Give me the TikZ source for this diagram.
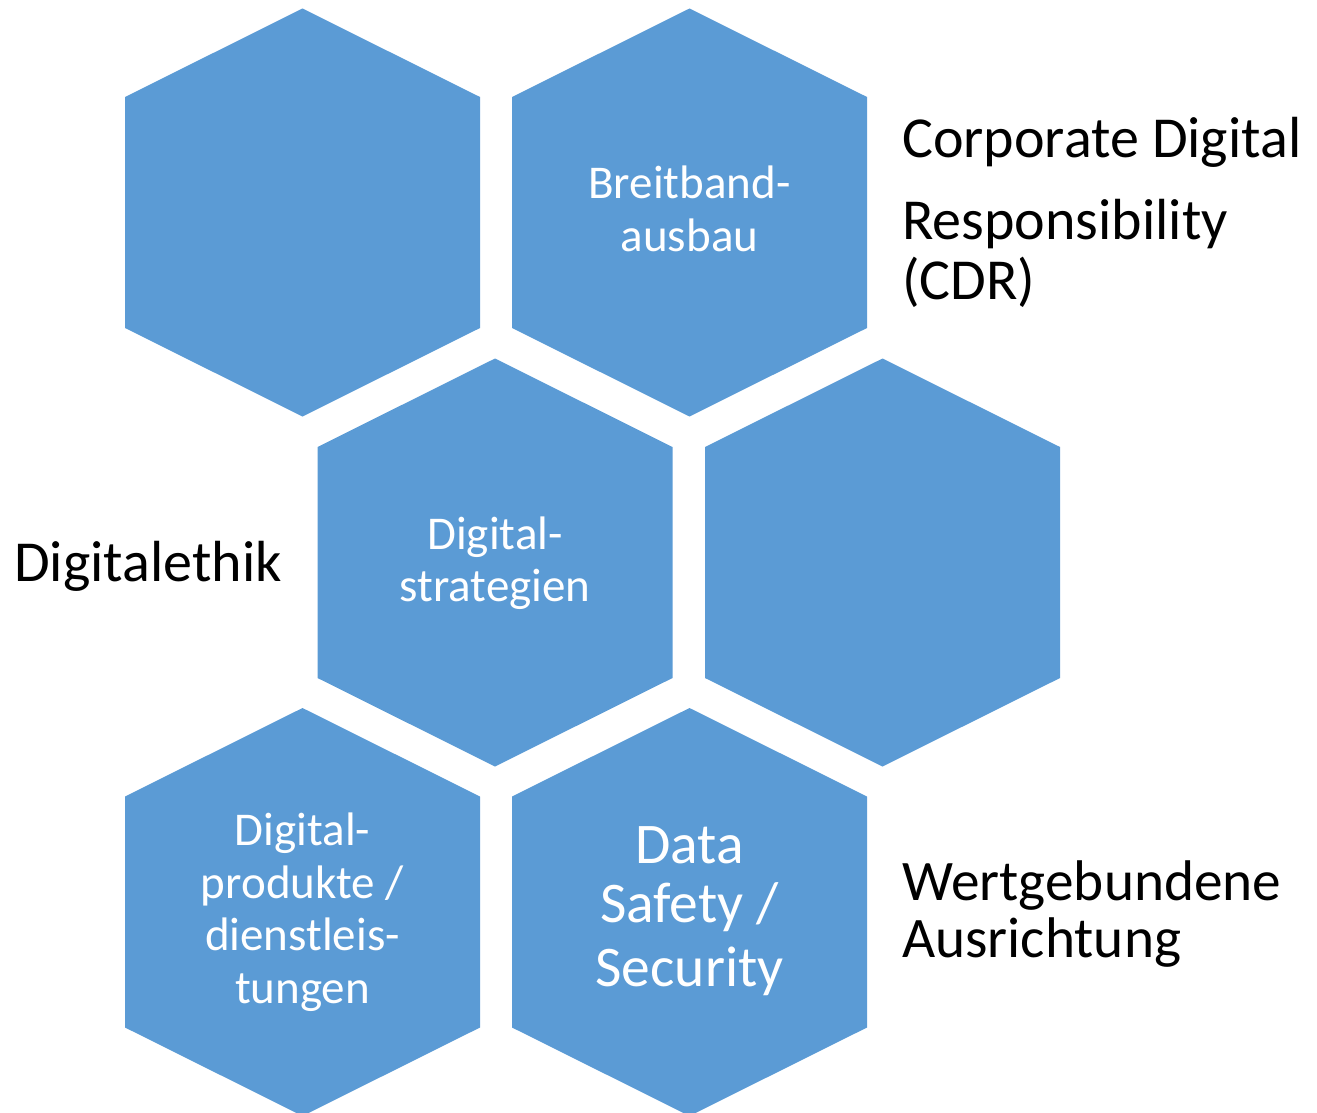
\documentclass[tikz,border=0pt]{standalone}
\usepackage{fontspec}
\setmainfont{Carlito}
\definecolor{hexblue}{RGB}{91,155,213}
\newcommand\hexcell[3]{%
  \coordinate (#1) at (#2,#3);
  \fill[hexfill,shift={(#2,#3)}] (0,-204) -- (177.5,-115.5) -- (177.5,115.5) -- (0,204) -- (-177.5,115.5) -- (-177.5,-115.5) -- cycle;}
\begin{document}
\begin{tikzpicture}[x=1pt,y=-1pt,
  hexfill/.style={fill=hexblue},
  intext/.style={text=white,anchor=base,inner sep=0pt,font=\fontsize{47}{52.5}\selectfont},
  bigintext/.style={text=white,anchor=base,inner sep=0pt,font=\fontsize{57.5}{62}\selectfont},
  outtext/.style={text=black,anchor=base west,inner sep=0pt,font=\fontsize{58}{70}\selectfont},
  outtextsmall/.style={outtext,font=\fontsize{57.3}{66}\selectfont}]
\useasboundingbox (0,0) rectangle (1317,1113);
\clip (0,0) rectangle (1317,1113);
\hexcell{h1}{302.5}{212.5}
\hexcell{h2}{689.5}{212.5}
\hexcell{h3}{495}{562.5}
\hexcell{h4}{882.5}{562.5}
\hexcell{h5}{302.5}{912}
\hexcell{h6}{689.5}{912}
% labels inside hexagons
\node[intext] (h2a) at (689.5,198.3) {Breitband-};
\node[intext] (h2b) at (689.5,251.5) {ausbau};
\node[intext] (h3a) at (495,549.3) {Digital-};
\node[intext] (h3b) at (495,601.7) {strategien};
\node[intext] (h5a) at (302.5,845.5) {Digital-};
\node[intext] (h5b) at (302.5,898) {produkte /};
\node[intext] (h5c) at (302.5,950.5) {dienstleis-};
\node[intext] (h5d) at (302.5,1003) {tungen};
\node[bigintext] (h6a) at (689.5,863.3) {Data};
\node[bigintext] (h6b) at (689.5,922.3) {Safety /};
\node[bigintext] (h6c) at (689.5,986.7) {Security};
% labels outside
\node[outtext] (cdr1) at (902,157.3) {Corporate Digital};
\node[outtext] (cdr2) at (902,239.3) {Responsibility};
\node[outtext] (cdr3) at (902,299.3) {(CDR)};
\node[outtext] (eth) at (14,581.7) {Digitalethik};
\node[outtextsmall] (wert1) at (902,900.5) {Wertgebundene};
\node[outtextsmall] (wert2) at (902,957) {Ausrichtung};
\end{tikzpicture}
\end{document}
